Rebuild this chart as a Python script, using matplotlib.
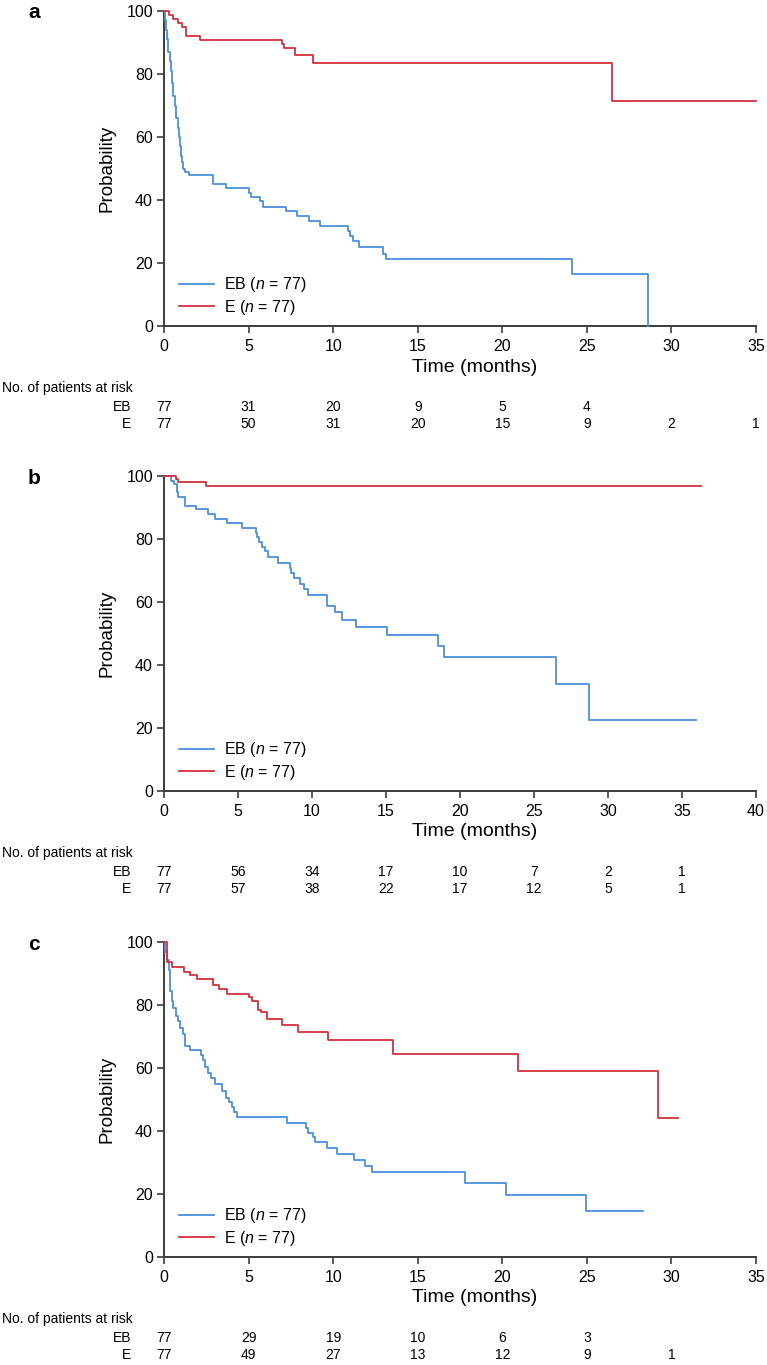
import matplotlib
matplotlib.use("Agg")
import matplotlib.pyplot as plt
from matplotlib.lines import Line2D

plt.rcParams['font.family'] = ['Liberation Sans', 'DejaVu Sans']
plt.rcParams['mathtext.fontset'] = 'custom'
plt.rcParams['mathtext.rm'] = 'Liberation Sans'
plt.rcParams['mathtext.it'] = 'Liberation Sans:italic'

# --- data (months, % surviving) ---
a_eb_t = [0, 0.05, 0.1, 0.15, 0.25, 0.35, 0.4, 0.5, 0.55, 0.65, 0.7, 0.8, 0.9, 0.95, 1.0, 1.05, 1.15, 1.27, 1.5,
          2.9, 3.65, 5.05, 5.15, 5.7, 5.85, 7.2, 7.85, 8.6, 9.25, 10.85, 11.0, 11.2, 11.55, 12.95, 13.15, 24.1, 28.6]
a_eb_s = [100, 97, 94, 91, 87, 84, 81, 77, 73, 70, 66, 63, 60, 57, 54, 52, 50, 49, 48,
          45.2, 43.7, 42.2, 41, 39.7, 37.9, 36.5, 34.8, 33.2, 31.6, 30.2, 28.6, 27.1, 25, 22.9, 21.3, 16.6, 0]
a_e_t = [0, 0.3, 0.55, 0.8, 1.05, 1.3, 2.1, 6.95, 7.1, 7.75, 8.8, 26.5, 35]
a_e_s = [100, 98.7, 97.4, 96.1, 94.8, 92.2, 90.9, 89.6, 88.3, 86.0, 83.5, 71.4, 71.4]

b_eb_t = [0, 0.47, 0.67, 0.87, 0.96, 1.4, 2.19, 3.0, 3.44, 4.26, 5.25, 6.21, 6.3, 6.41, 6.65, 6.8, 7.0, 7.67,
          8.48, 8.57, 8.75, 9.21, 9.48, 9.71, 11.02, 11.55, 12.01, 12.97, 15.04, 18.48, 18.89, 26.5, 28.69, 35.95]
b_eb_s = [100, 98.5, 97.4, 95.0, 93.3, 90.6, 89.5, 88.0, 86.4, 85.1, 83.5, 82.0, 80.6, 79.0, 77.6, 76.3, 74.3, 72.4,
          70.7, 69.2, 67.6, 65.8, 64.2, 62.3, 58.6, 56.8, 54.4, 52.2, 49.5, 45.9, 42.5, 34.0, 22.6, 22.6]
b_e_t = [0, 0.8, 0.97, 2.84, 36.3]
b_e_s = [100, 98.9, 98.1, 96.8, 96.8]

c_eb_t = [0, 0.08, 0.2, 0.27, 0.33, 0.46, 0.56, 0.71, 0.84, 0.97, 1.1, 1.22, 1.56, 2.2, 2.32, 2.45, 2.63, 2.76,
          3.0, 3.4, 3.65, 3.83, 4.0, 4.15, 4.3, 7.27, 8.37, 8.5, 8.83, 8.95, 9.64, 10.2, 11.25, 11.86, 12.27,
          17.8, 20.2, 24.95, 28.34]
c_eb_s = [100, 96.9, 94.3, 91.2, 84.3, 81.2, 79.1, 76.4, 74.8, 72.6, 70.9, 67.1, 65.8, 64.0, 62.4, 60.4, 58.5, 56.7,
          54.8, 52.7, 50.5, 49.1, 47.7, 45.9, 44.3, 42.4, 40.9, 39.4, 38.2, 36.4, 34.7, 32.6, 30.8, 28.9, 26.9,
          23.6, 19.6, 14.5, 14.5]
c_e_t = [0, 0.2, 0.46, 1.17, 1.53, 1.94, 2.88, 3.27, 3.7, 5.05, 5.18, 5.56, 5.74, 6.07, 6.96, 7.9, 9.69,
         13.55, 20.9, 29.2, 30.4]
c_e_s = [100, 93.5, 92.0, 90.6, 89.5, 88.2, 86.4, 85.2, 83.5, 82.4, 81.4, 78.5, 77.7, 75.7, 73.7, 71.5, 68.8,
         64.6, 59.1, 44.2, 44.2]

# numbers at risk
a_risk_eb = [77, 31, 20, 9, 5, 4]
a_risk_e = [77, 50, 31, 20, 15, 9, 2, 1]
b_risk_eb = [77, 56, 34, 17, 10, 7, 2, 1]
b_risk_e = [77, 57, 38, 22, 17, 12, 5, 1]
c_risk_eb = [77, 29, 19, 10, 6, 3]
c_risk_e = [77, 49, 27, 13, 12, 9, 1]

panels = [
    ("a", a_eb_t, a_eb_s, a_e_t, a_e_s, a_risk_eb, a_risk_e, 35, 11),
    ("b", b_eb_t, b_eb_s, b_e_t, b_e_s, b_risk_eb, b_risk_e, 40, 476),
    ("c", c_eb_t, c_eb_s, c_e_t, c_e_s, c_risk_eb, c_risk_e, 35, 942),
]

BLUE = '#4a90dc'
RED = '#d3303a'
AXC = '#3c3c3c'

W, H = 767, 1365
fig = plt.figure(figsize=(W / 100, H / 100), dpi=100)

x0, x1 = 164, 756
for label, ebt, ebs, et, es, r_eb, r_e, xmax, top in panels:
    bottom = top + 315
    ax = fig.add_axes([x0 / W, (H - bottom) / H, (x1 - x0) / W, 315 / H])
    ax.step(ebt, ebs, where='post', color=BLUE, lw=1.3, clip_on=False, zorder=3)
    ax.step(et, es, where='post', color=RED, lw=1.3, clip_on=False, zorder=3)
    ax.set_xlim(0, xmax)
    ax.set_ylim(0, 100)
    ax.set_xticks(range(0, xmax + 1, 5))
    ax.set_yticks(range(0, 101, 20))
    for s in ['top', 'right']:
        ax.spines[s].set_visible(False)
    for s in ['left', 'bottom']:
        ax.spines[s].set_color(AXC)
        ax.spines[s].set_linewidth(1.4)
    ax.tick_params(direction='out', length=5, width=1.2, color=AXC, labelsize=11.5)
    ax.tick_params(axis='x', pad=4.5)
    ax.tick_params(axis='y', pad=3)

    handles = [Line2D([], [], color=BLUE, lw=1.3), Line2D([], [], color=RED, lw=1.3)]
    ax.legend(handles, ['EB ($n$ = 77)', 'E ($n$ = 77)'], loc='lower left',
              bbox_to_anchor=(0.025, 0.03), frameon=False, fontsize=11.5,
              borderpad=0, borderaxespad=0, handlelength=2.2, handletextpad=0.6, labelspacing=0.2)

    fig.text(107 / W, (H - (top + bottom) / 2) / H, 'Probability', rotation=90,
             ha='center', va='center', fontsize=13.5)
    ax.annotate(label, xy=(0, 1), xycoords='axes fraction', xytext=(34 - x0, -2),
                textcoords='offset pixels', ha='center', va='center', fontsize=15, fontweight='bold')
    ax.annotate('Time (months)', xy=(0.524, 0), xycoords='axes fraction', xytext=(0, -41),
                textcoords='offset pixels', ha='center', va='center', fontsize=14)

    # risk table
    ax.annotate('No. of patients at risk', xy=(0, 0), xycoords='axes fraction', xytext=(2 - x0, -62),
                textcoords='offset pixels', ha='left', va='center', fontsize=10)
    for name, vals, dy in [('EB', r_eb, -81), ('E', r_e, -98)]:
        ax.annotate(name, xy=(0, 0), xycoords='axes fraction', xytext=(131 - x0, dy),
                    textcoords='offset pixels', ha='right', va='center', fontsize=10)
        for i, v in enumerate(vals):
            ax.annotate(str(v), xy=(i * 5, 0), xycoords=('data', 'axes fraction'), xytext=(0, dy),
                        textcoords='offset pixels', ha='center', va='center', fontsize=10)

fig.savefig('out.png', dpi=100)
